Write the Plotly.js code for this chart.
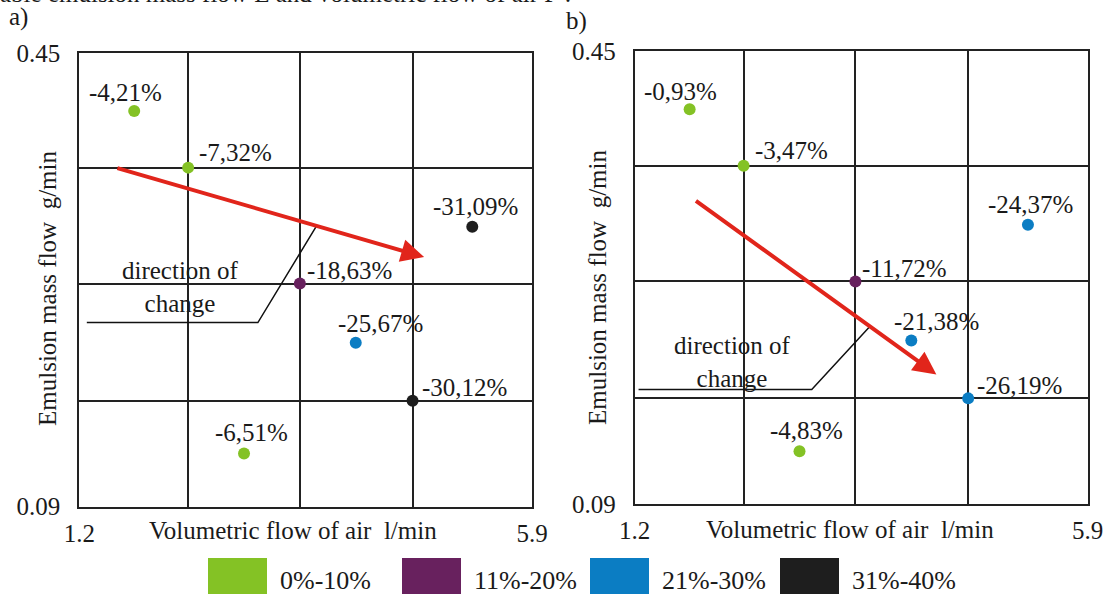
<!DOCTYPE html>
<html><head><meta charset="utf-8">
<script src="https://cdn.plot.ly/plotly-3.0.1.min.js"></script>
<style>html,body{margin:0;padding:0;background:#fff;} #chart{width:1108px;height:594px;}</style>
</head><body><div id="chart"></div>
<script>
// ---- data ----
const airFlow  = [1.77, 2.33, 5.28, 3.49, 4.07, 4.66, 2.91];      // l/min
const massFlow = [0.404, 0.359, 0.312, 0.267, 0.220, 0.174, 0.132]; // g/min
const changeA = ['-4,21%','-7,32%','-31,09%','-18,63%','-25,67%','-30,12%','-6,51%'];
const changeB = ['-0,93%','-3,47%','-24,37%','-11,72%','-21,38%','-26,19%','-4,83%'];
const classA = [0,0,3,1,2,3,0];
const classB = [0,0,2,1,2,2,0];
const classNames = ['0%-10%','11%-20%','21%-30%','31%-40%'];
const xTickVals = [1.2, 2.33, 3.49, 4.66, 5.9];
const xTickText = ['1.2','','','','5.9'];
const yTickVals = [0.09, 0.174, 0.267, 0.359, 0.45];
const yTickText = ['0.09','','','','0.45'];
const arrowA = {from:[1.58, 0.359], to:[4.78, 0.288]};
const arrowB = {from:[1.82, 0.332], to:[4.33, 0.193]};
const leaderA = [[1.278, 0.236], [3.054, 0.236], [3.657, 0.312]];
const leaderB = [[1.240, 0.181], [3.037, 0.181], [3.637, 0.231]];
const noteA = [2.255, 0.264];
const noteB = [2.215, 0.203];

// ---- style ----
const classColors = ['#84c225','#68215e','#0b7dc3','#1e1e1e'];
const FONT = 'Liberation Serif, serif';
const FS = 25;
const INK = '#1a1a1a';
const W = 1108, H = 594;
const pxX = v => v / W, pxY = v => 1 - v / H;
// label offsets relative to the marker [dx, dy(screen down), anchor]
const labelOffsets = [[-9,-18,'center'],[9,-15,'left'],[3,-20,'center'],[5,-13,'left'],[25,-19,'center'],[7,-13,'left'],[7,-21,'center']];

const panels = [
  {xa:'x', ya:'y', labels:changeA, cls:classA, arrow:arrowA, leader:leaderA, note:noteA,
   xdom:[79.3,532], ydom:[53,506.5], letter:'a)', letterPos:[18,17], yTitle:[47,288], xTitle:[293,530]},
  {xa:'x2', ya:'y2', labels:changeB, cls:classB, arrow:arrowB, leader:leaderB, note:noteB,
   xdom:[634.7,1087.7], ydom:[51.3,504], letter:'b)', letterPos:[576,21], yTitle:[597,287], xTitle:[850,529]}
];

const data = [];
const annotations = [];
const shapes = [];
const layout = {
  width: W, height: H,
  margin: {l:0, r:0, t:0, b:0},
  paper_bgcolor: '#fff', plot_bgcolor: '#fff',
  showlegend: false,
  font: {family: FONT, size: FS, color: INK}
};

panels.forEach((p, k) => {
  const sfx = k === 0 ? '' : '2';
  data.push({
    type: 'scatter', mode: 'markers',
    x: airFlow, y: massFlow,
    xaxis: p.xa, yaxis: p.ya,
    marker: {size: 12, color: p.cls.map(c => classColors[c])},
    hoverinfo: 'skip', cliponaxis: false
  });
  layout['xaxis' + sfx] = {
    domain: [pxX(p.xdom[0]), pxX(p.xdom[1])], range: [1.2, 5.9], anchor: p.ya,
    tickmode: 'array', tickvals: xTickVals, ticktext: xTickText,
    showgrid: true, gridcolor: '#222', gridwidth: 2, zeroline: false,
    showline: true, mirror: true, linecolor: '#222', linewidth: 2,
    ticks: '', ticklabelstandoff: 3,
    tickfont: {family: FONT, size: FS, color: INK}, fixedrange: true
  };
  layout['yaxis' + sfx] = {
    domain: [pxY(p.ydom[1]), pxY(p.ydom[0])], range: [0.09, 0.45], anchor: p.xa,
    tickmode: 'array', tickvals: yTickVals, ticktext: yTickText,
    showgrid: true, gridcolor: '#222', gridwidth: 2, zeroline: false,
    showline: true, mirror: true, linecolor: '#222', linewidth: 2,
    ticks: '', ticklabelstandoff: 12,
    tickfont: {family: FONT, size: FS, color: INK}, fixedrange: true
  };
  // point labels
  p.labels.forEach((t, i) => {
    const o = labelOffsets[i];
    annotations.push({xref: p.xa, yref: p.ya, x: airFlow[i], y: massFlow[i], text: t,
      showarrow: false, xanchor: o[2], yanchor: 'middle', xshift: o[0], yshift: -o[1],
      font: {family: FONT, size: FS, color: INK}});
  });
  // red direction arrow
  annotations.push({xref: p.xa, yref: p.ya, x: p.arrow.to[0], y: p.arrow.to[1],
    axref: p.xa, ayref: p.ya, ax: p.arrow.from[0], ay: p.arrow.from[1],
    text: '', showarrow: true, arrowhead: 2, arrowsize: 1.15, arrowwidth: 4,
    arrowcolor: '#e1251b', standoff: 0, startstandoff: 0});
  // leader line and note
  shapes.push({type: 'path', xref: p.xa, yref: p.ya,
    path: 'M' + p.leader.map(q => q[0] + ',' + q[1]).join(' L'),
    line: {color: '#111', width: 1.5}});
  annotations.push({xref: p.xa, yref: p.ya, x: p.note[0], y: p.note[1],
    text: 'direction of<br>change', showarrow: false, xanchor: 'center', yanchor: 'middle',
    font: {family: FONT, size: FS, color: INK}});
  // axis titles
  annotations.push({xref: 'paper', yref: 'paper', x: pxX(p.xTitle[0]), y: pxY(p.xTitle[1]),
    text: 'Volumetric flow of air\u00a0\u00a0l/min', showarrow: false, xanchor: 'center', yanchor: 'middle',
    font: {family: FONT, size: FS, color: INK}});
  annotations.push({xref: 'paper', yref: 'paper', x: pxX(p.yTitle[0]), y: pxY(p.yTitle[1]),
    text: 'Emulsion mass flow\u00a0\u00a0g/min', showarrow: false, textangle: -90,
    xanchor: 'center', yanchor: 'middle', font: {family: FONT, size: FS, color: INK}});
  // panel letter
  annotations.push({xref: 'paper', yref: 'paper', x: pxX(p.letterPos[0]), y: pxY(p.letterPos[1]),
    text: p.letter, showarrow: false, xanchor: 'center', yanchor: 'middle',
    font: {family: FONT, size: FS, color: INK}});
});

// clipped caption line at the very top
annotations.push({xref: 'paper', yref: 'paper', x: pxX(-2), y: pxY(-6),
  text: 'able emulsion mass flow E and volumetric flow of air F :', showarrow: false,
  xanchor: 'left', yanchor: 'middle', font: {family: FONT, size: FS, color: INK}});

// legend
const legendSquareX = [208, 402, 590, 780];
classNames.forEach((name, i) => {
  const x0 = legendSquareX[i];
  shapes.push({type: 'rect', xref: 'paper', yref: 'paper',
    x0: pxX(x0), x1: pxX(x0 + 59), y0: pxY(605), y1: pxY(558),
    fillcolor: classColors[i], line: {width: 0}});
  annotations.push({xref: 'paper', yref: 'paper', x: pxX(x0 + 70), y: pxY(580),
    text: name, showarrow: false, xanchor: 'left', yanchor: 'middle',
    font: {family: FONT, size: FS + 1, color: INK}});
});

layout.annotations = annotations;
layout.shapes = shapes;

Plotly.newPlot('chart', data, layout, {displayModeBar: false, staticPlot: true});
</script>
</body></html>
